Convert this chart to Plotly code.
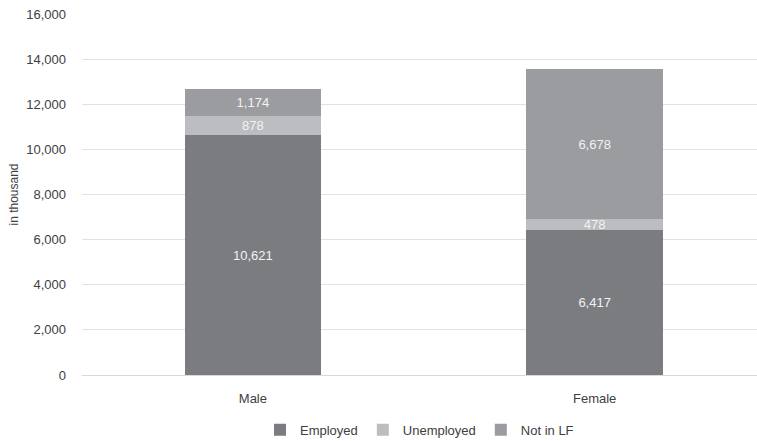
import plotly.graph_objects as go

categories = ["Male", "Female"]
employed = [10621, 6417]
unemployed = [878, 478]
not_in_lf = [1174, 6678]
y_ticks = [0, 2000, 4000, 6000, 8000, 10000, 12000, 14000, 16000]

series = [
    ("Employed", employed, "#7b7c80"),
    ("Unemployed", unemployed, "#bcbdc0"),
    ("Not in LF", not_in_lf, "#9b9c9f"),
]

FONT = "Liberation Sans, Arial, sans-serif"

fig = go.Figure()
for name, vals, color in series:
    fig.add_trace(go.Bar(
        x=categories, y=vals, name=name,
        marker=dict(color=color, line=dict(width=0)),
        width=0.4,
        text=[f"{v:,}" for v in vals],
        textposition="inside",
        insidetextanchor="middle",
        textangle=0,
        textfont=dict(color="#f2f2f2", size=13, family=FONT),
    ))

fig.update_layout(
    barmode="stack",
    width=757, height=441,
    margin=dict(l=82, r=0, t=14, b=66, autoexpand=False),
    plot_bgcolor="white", paper_bgcolor="white",
    font=dict(family=FONT, size=13, color="#404040"),
    uniformtext=dict(minsize=13, mode="show"),
    legend=dict(orientation="h", x=0.5, xanchor="center", y=-0.152, yanchor="middle",
                font=dict(size=13, color="#404040", family=FONT), itemwidth=30,
                traceorder="normal"),
    xaxis=dict(range=[-0.5, 1.475], showgrid=False, showline=False, ticks="",
               ticklabelstandoff=14,
               tickfont=dict(size=13, color="#404040", family=FONT)),
    yaxis=dict(range=[0, 16000], tickvals=y_ticks, tickformat=",", showgrid=True,
               gridcolor="#e2e2e2", gridwidth=1, zeroline=True, zerolinecolor="#d9d9d9",
               zerolinewidth=1, ticks="", ticklabelstandoff=15,
               title=dict(text="in thousand", font=dict(size=12, color="#404040", family=FONT),
                          standoff=5),
               tickfont=dict(size=13, color="#404040", family=FONT)),
)

fig.write_html("out.html")
